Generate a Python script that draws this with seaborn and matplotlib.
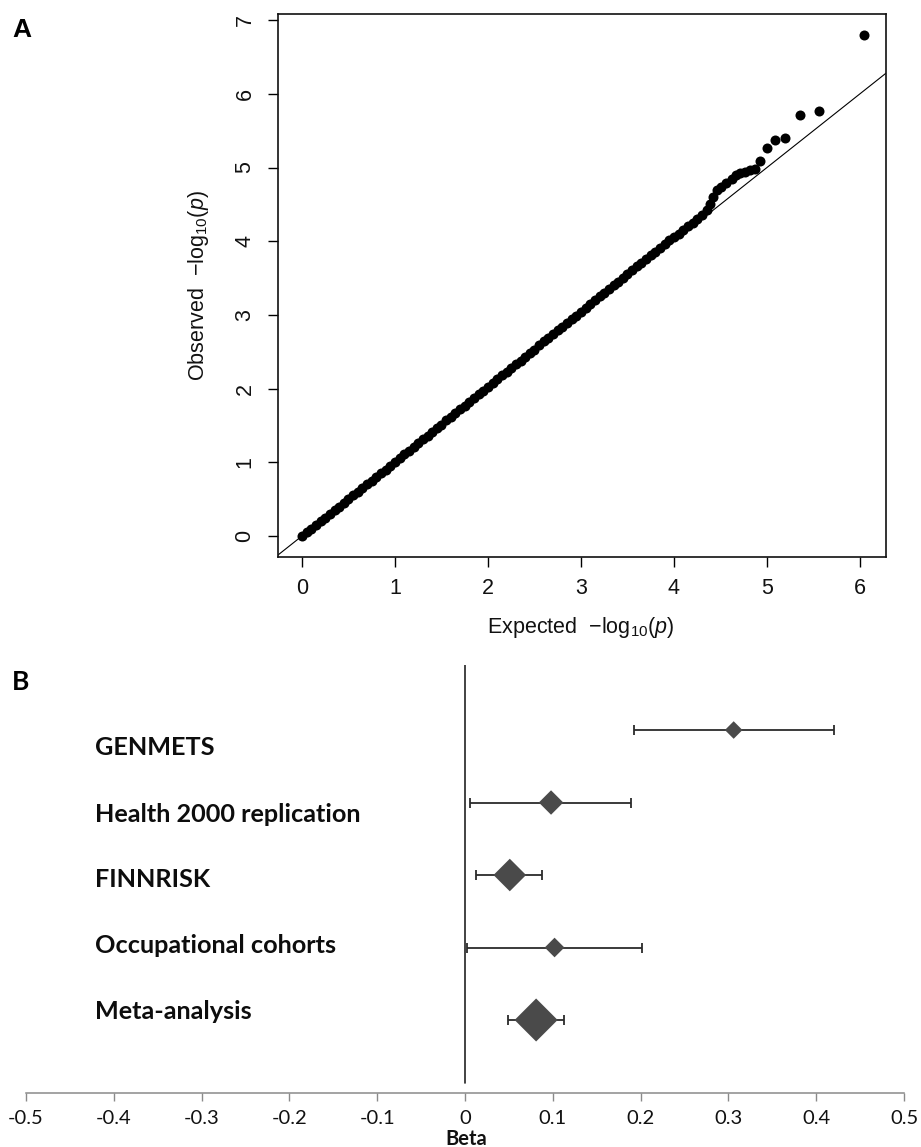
import matplotlib
matplotlib.use("Agg")
import matplotlib.pyplot as plt
import numpy as np
import pandas as pd
import seaborn as sns

# ---------------- Data ----------------
# Panel A: QQ plot (expected vs observed -log10 p)
qq_expected = [0.00, 0.05, 0.10, 0.15, 0.20, 0.25, 0.30, 0.35, 0.40, 0.45,
               0.50, 0.55, 0.60, 0.65, 0.70, 0.75, 0.80, 0.85, 0.90, 0.95,
               1.00, 1.05, 1.10, 1.15, 1.20, 1.25, 1.30, 1.35, 1.40, 1.45,
               1.50, 1.55, 1.60, 1.65, 1.70, 1.75, 1.80, 1.85, 1.90, 1.95,
               2.00, 2.05, 2.10, 2.15, 2.20, 2.25, 2.30, 2.35, 2.40, 2.45,
               2.50, 2.55, 2.60, 2.65, 2.70, 2.75, 2.80, 2.85, 2.90, 2.95,
               3.00, 3.05, 3.10, 3.15, 3.20, 3.25, 3.30, 3.35, 3.40, 3.45,
               3.50, 3.55, 3.60, 3.65, 3.70, 3.75, 3.80, 3.85, 3.90, 3.95,
               4.00, 4.05, 4.10, 4.15, 4.20, 4.25, 4.30,
               4.35, 4.39, 4.42, 4.46, 4.51, 4.56, 4.62, 4.67, 4.71, 4.76,
               4.82, 4.87, 4.92, 5.00, 5.09, 5.19, 5.35, 5.56, 6.04]
qq_observed = [0.00, 0.05, 0.10, 0.15, 0.20, 0.25, 0.30, 0.35, 0.40, 0.45,
               0.50, 0.55, 0.60, 0.65, 0.70, 0.75, 0.80, 0.85, 0.90, 0.95,
               1.00, 1.06, 1.11, 1.16, 1.21, 1.26, 1.31, 1.36, 1.41, 1.46,
               1.51, 1.57, 1.62, 1.67, 1.72, 1.77, 1.82, 1.87, 1.92, 1.97,
               2.02, 2.08, 2.13, 2.18, 2.23, 2.28, 2.33, 2.38, 2.43, 2.48,
               2.53, 2.59, 2.64, 2.69, 2.74, 2.79, 2.84, 2.89, 2.94, 2.99,
               3.04, 3.10, 3.15, 3.20, 3.25, 3.30, 3.35, 3.40, 3.45, 3.50,
               3.55, 3.61, 3.66, 3.71, 3.76, 3.81, 3.86, 3.91, 3.96, 4.01,
               4.06, 4.10, 4.15, 4.20, 4.25, 4.30, 4.36,
               4.42, 4.50, 4.60, 4.69, 4.74, 4.79, 4.85, 4.90, 4.93, 4.94,
               4.96, 4.98, 5.09, 5.26, 5.37, 5.40, 5.71, 5.77, 6.80]
qq_xticks = [0, 1, 2, 3, 4, 5, 6]
qq_yticks = [0, 1, 2, 3, 4, 5, 6, 7]

# Panel B: forest plot
studies = ["GENMETS", "Health 2000 replication", "FINNRISK",
           "Occupational cohorts", "Meta-analysis"]
beta = [0.306, 0.098, 0.051, 0.102, 0.081]
ci_low = [0.193, 0.006, 0.013, 0.002, 0.049]
ci_high = [0.420, 0.189, 0.088, 0.202, 0.113]
beta_ticks = [-0.5, -0.4, -0.3, -0.2, -0.1, 0.0, 0.1, 0.2, 0.3, 0.4, 0.5]
beta_tick_labels = ["-0.5", "-0.4", "-0.3", "-0.2", "-0.1", "0",
                    "0.1", "0.2", "0.3", "0.4", "0.5"]

# style (marker sizes in points^2 for the diamonds)
diamond_area = [80, 155, 275, 100, 480]

# ---------------- Figure ----------------
sns.set_theme(style="white")
plt.rcParams['font.family'] = ['Liberation Sans', 'DejaVu Sans']
plt.rcParams['mathtext.fontset'] = 'custom'
plt.rcParams['mathtext.rm'] = 'Liberation Sans'
plt.rcParams['mathtext.it'] = 'Liberation Sans:italic'
plt.rcParams['mathtext.bf'] = 'Liberation Sans:bold'

W, H = 921, 1147
fig = plt.figure(figsize=(W / 100, H / 100), dpi=100)
fig.patch.set_facecolor("white")

# ---------- Panel A ----------
axA = fig.add_axes([278 / W, 1 - 557 / H, 608 / W, 543 / H])
qq = pd.DataFrame({"expected": qq_expected, "observed": qq_observed})
axA.axline((0, 0), slope=1, color="black", lw=0.8, zorder=2)
sns.scatterplot(data=qq, x="expected", y="observed", ax=axA, color="black",
                s=52, linewidth=0, zorder=3, legend=False)
axA.set_xlim(-0.258, 6.28)
axA.set_ylim(-0.285, 7.083)
axA.set_xticks(qq_xticks, labels=[str(t) for t in qq_xticks])
axA.set_yticks(qq_yticks, labels=[str(t) for t in qq_yticks],
               rotation=90, va="center")
axA.tick_params(axis="both", which="both", direction="out", length=7.2,
                width=1.0, color="black", labelsize=15.5, labelcolor="#111111",
                bottom=True, left=True)
axA.tick_params(axis="x", pad=8)
axA.tick_params(axis="y", pad=9)
for s in axA.spines.values():
    s.set_color("#111111")
    s.set_linewidth(1.2)
    s.set_visible(True)
axA.set_xlabel("Expected  $-\\mathrm{log}_{10}(\\mathit{p})$", fontsize=15.5,
               color="#111111", va="center")
axA.xaxis.set_label_coords(0.497, -0.129)
axA.set_ylabel("Observed  $-\\mathrm{log}_{10}(\\mathit{p})$", fontsize=15.5,
               color="#111111", va="center")
axA.yaxis.set_label_coords(-0.13, 0.5)
axA.grid(False)

fig.text(12 / W, 1 - 37 / H, "A", fontsize=19, fontweight="bold",
         ha="left", va="baseline", color="black")

# ---------- Panel B ----------
bx0, bx1 = 26, 904
axB = fig.add_axes([bx0 / W, 1 - 1093 / H, (bx1 - bx0) / W, 428 / H])
forest = pd.DataFrame({"study": studies, "beta": beta,
                       "lo": ci_low, "hi": ci_high})
forest["row"] = np.arange(len(studies))

axB.axvline(0, ymin=10 / 428, ymax=1, color="#222222", lw=1.2, zorder=1)
axB.errorbar(forest["beta"], forest["row"],
             xerr=[forest["beta"] - forest["lo"], forest["hi"] - forest["beta"]],
             fmt="none", ecolor="#2b2b2b", elinewidth=1.3, capsize=3.6,
             capthick=1.3, zorder=2)
sns.scatterplot(data=forest, x="beta", y="row", ax=axB, marker="D",
                s=diamond_area, color="#4a4a4a", linewidth=0, zorder=3,
                legend=False)
axB.set_xlim(-0.5, 0.5)
axB.set_ylim(5.007, -0.897)
axB.set_yticks([])
axB.set_xticks(beta_ticks, labels=beta_tick_labels)
for lab in axB.get_xticklabels():
    lab.set_fontfamily("Lato")
axB.tick_params(axis="x", direction="out", length=6, width=1.0,
                color="#8a8a8a", labelsize=14.5, pad=6, bottom=True,
                labelcolor="#111111")
for side in ["left", "top", "right"]:
    axB.spines[side].set_visible(False)
axB.spines["bottom"].set_color("#8a8a8a")
axB.spines["bottom"].set_linewidth(1.1)
axB.set_xlabel("")
axB.set_ylabel("")
axB.grid(False)
axB.patch.set_alpha(0)

label_baselines = [0.345, 1.269, 2.166, 3.076, 3.986]
for name, yb in zip(studies, label_baselines):
    axB.text(95 / W, 1 - (730 + yb * 72.5) / H, name, fontsize=18.2,
             fontweight="bold", family="Lato", ha="left", va="baseline",
             color="#0d0d0d", transform=fig.transFigure)

fig.text(466 / W, 1 - 1145 / H, "Beta", fontsize=14.5, fontweight="bold",
         family="Lato", ha="center", va="baseline", color="#111111")
fig.text(12 / W, 1 - 690 / H, "B", fontsize=19, fontweight="bold",
         family="Lato", ha="left", va="baseline", color="black")

fig.savefig("out.png", dpi=100, facecolor="white")
